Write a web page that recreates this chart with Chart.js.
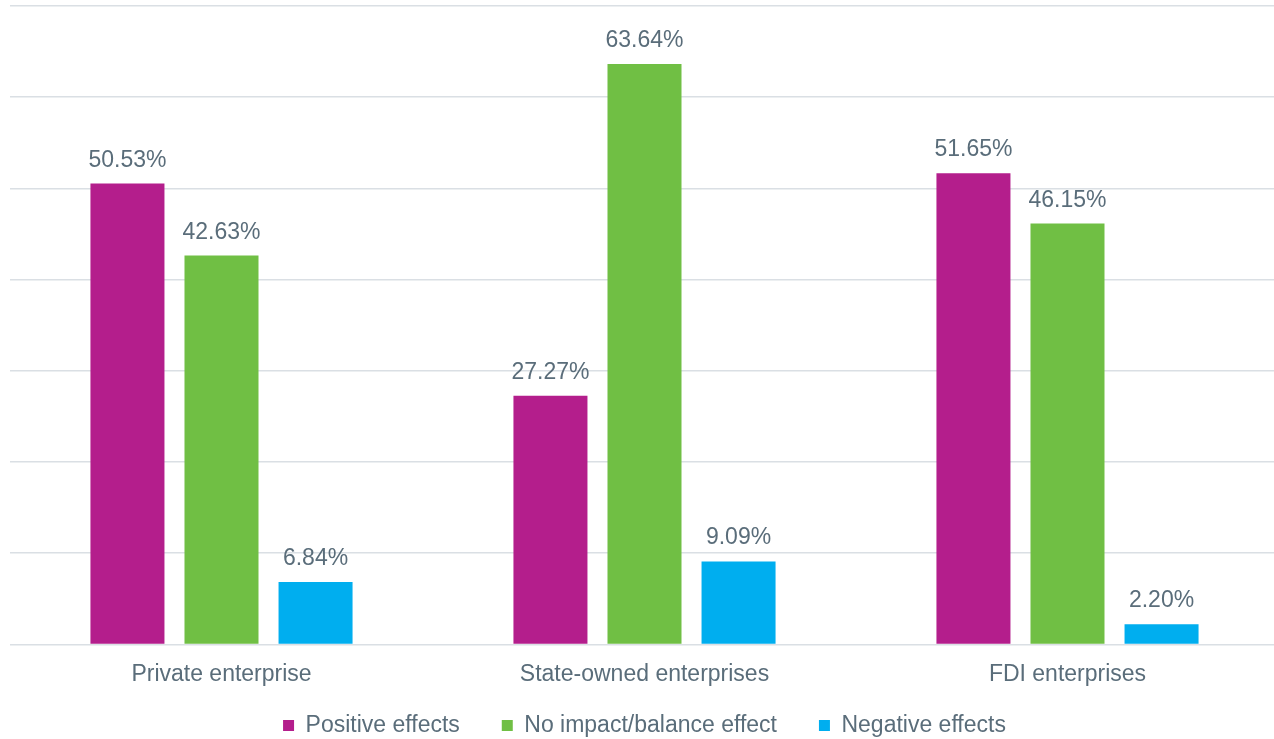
<!DOCTYPE html>
<html>
<head>
<meta charset="utf-8">
<script src="https://cdn.jsdelivr.net/npm/chart.js@4/dist/chart.umd.min.js"></script>
<style>
  html, body { margin: 0; background: #fff; overflow: hidden; }
</style>
</head>
<body>
<canvas id="chart" width="1279" height="747"></canvas>
<script>
const categories = ["Private enterprise", "State-owned enterprises", "FDI enterprises"];
const seriesNames = ["Positive effects", "No impact/balance effect", "Negative effects"];
const positiveVals = [50.53, 27.27, 51.65];
const neutralVals = [42.63, 63.64, 46.15];
const negativeVals = [6.84, 9.09, 2.20];
const colors = ["#b41e8c", "#70bf44", "#00aeef"];

const textColor = "#5a6d7a";
const font = "'Liberation Sans', Arial, sans-serif";

// draws the value labels above each bar
const valueLabels = {
    id: "valueLabels",
    afterDatasetsDraw(chart) {
        const ctx = chart.ctx;
        ctx.save();
        ctx.font = "23px " + font;
        ctx.fillStyle = textColor;
        ctx.textAlign = "center";
        ctx.textBaseline = "alphabetic";
        chart.data.datasets.forEach((ds, i) => {
            chart.getDatasetMeta(i).data.forEach((bar, j) => {
                ctx.fillText(ds.data[j].toFixed(2) + "%", bar.x, bar.y - 17);
            });
        });
        ctx.restore();
    }
};

new Chart(document.getElementById("chart"), {
    type: "bar",
    data: {
        labels: categories,
        datasets: [
            { label: seriesNames[0], data: positiveVals, backgroundColor: colors[0] },
            { label: seriesNames[1], data: neutralVals, backgroundColor: colors[1] },
            { label: seriesNames[2], data: negativeVals, backgroundColor: colors[2] }
        ]
    },
    options: {
        responsive: false,
        animation: false,
        categoryPercentage: 0.667,
        barPercentage: 0.787,
        layout: { padding: { left: 10, right: 0, top: 6, bottom: 0 } },
        plugins: {
            tooltip: { enabled: false },
            legend: {
                position: "bottom",
                labels: {
                    boxWidth: 11,
                    boxHeight: 11,
                    padding: 10,
                    color: textColor,
                    font: { size: 23, family: font },
                    // extra space after each item except the last one
                    generateLabels(chart) {
                        const items = Chart.defaults.plugins.legend.labels.generateLabels(chart);
                        items.forEach((it, i) => {
                            if (i < items.length - 1) it.text = it.text + "     ";
                        });
                        return items;
                    }
                }
            }
        },
        scales: {
            x: {
                grid: { display: false, drawTicks: false },
                border: { display: false },
                ticks: { padding: 16, color: textColor, font: { size: 23, family: font } }
            },
            y: {
                min: 0,
                max: 70,
                ticks: { display: false, stepSize: 10 },
                grid: { color: "#dadfe4", lineWidth: 1.5, drawTicks: false },
                border: { display: false }
            }
        }
    },
    plugins: [valueLabels]
});
</script>
</body>
</html>
